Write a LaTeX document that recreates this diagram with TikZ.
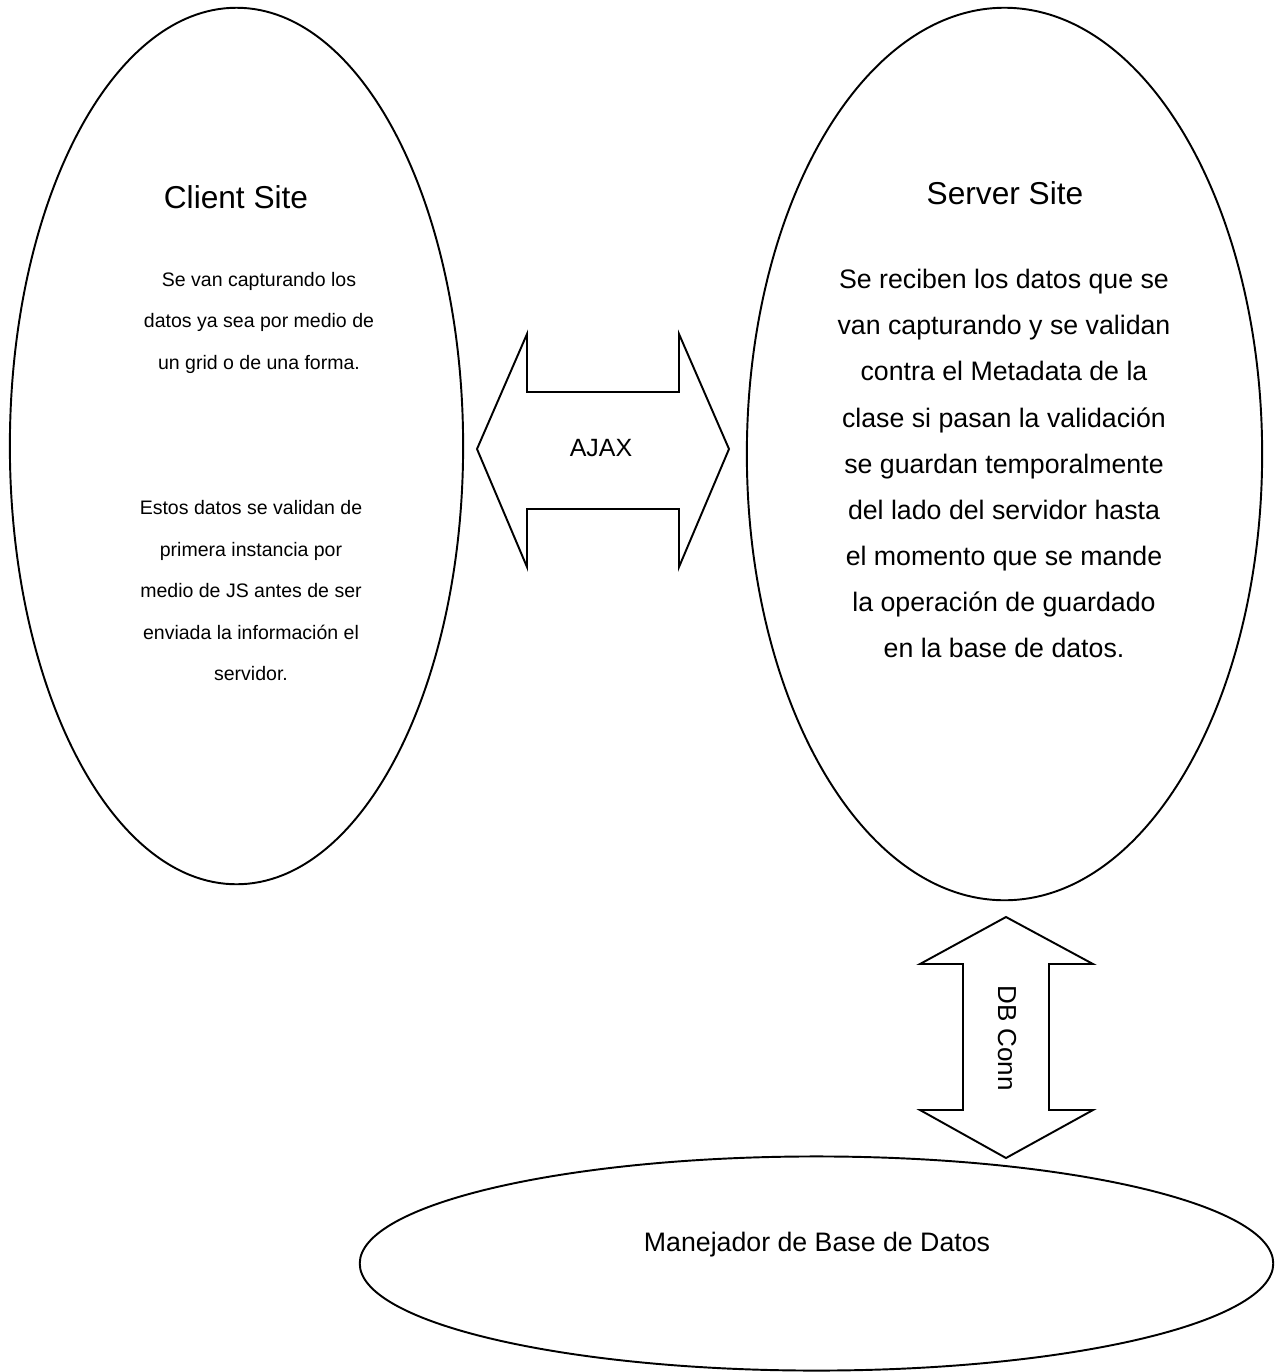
\documentclass[tikz,border=0pt]{standalone}
\usepackage{fontspec}
\setmainfont{Liberation Sans}
\usetikzlibrary{shapes.geometric}
\begin{document}
\begin{tikzpicture}[x=0.01cm,y=-0.01cm,
  outline/.style={draw=black,line width=0.55pt},
  site/.style={outline,ellipse,inner sep=0pt},
  title/.style={font=\fontsize{9}{11}\selectfont},
  smalltext/.style={align=center,font=\fontsize{5.55}{11.8}\selectfont},
  bodytext/.style={align=center,font=\fontsize{7.6}{13.1}\selectfont},
  label/.style={font=\fontsize{7.4}{9}\selectfont}]
\useasboundingbox (0,0) rectangle (1277,1372);

% the three ellipses
\node[site,minimum width=4.53cm,minimum height=8.76cm] (client) at (236.5,446) {};
\node[site,minimum width=5.15cm,minimum height=8.92cm] (server) at (1004.5,454) {};
\node[site,minimum width=9.13cm,minimum height=2.14cm] (dbms) at (816.5,1263.5) {};

% client side texts
\node[title] (clienttitle) at (236,197) {Client Site};
\node[smalltext] (clientcap) at (259,322.5) {Se van capturando los\\datos ya sea por medio de\\un grid o de una forma.};
\node[smalltext] (clientval) at (251,591) {Estos datos se validan de\\primera instancia por\\medio de JS antes de ser\\enviada la información el\\servidor.};

% server side texts
\node[title] (servertitle) at (1005,193) {Server Site};
\node[bodytext] (serverbody) at (1004,463.5) {Se reciben los datos que se\\van capturando y se validan\\contra el Metadata de la\\clase si pasan la validación\\se guardan temporalmente\\del lado del servidor hasta\\el momento que se mande\\la operación de guardado\\en la base de datos.};

% database text
\node[bodytext] (dbmstext) at (817,1245) {Manejador de Base de Datos};

% AJAX double arrow
\draw[outline] (477,449) -- (527,334) -- (527,392) -- (679,392) -- (679,334)
  -- (729,449) -- (679,567) -- (679,509) -- (527,509) -- (527,567) -- cycle;
\node[label,font=\fontsize{7.1}{9}\selectfont] (ajax) at (601,448) {AJAX};

% DB connection double arrow
\draw[outline] (1006,917) -- (1093,964) -- (1049,964) -- (1049,1110) -- (1093,1110)
  -- (1006,1158) -- (920,1110) -- (963,1110) -- (963,964) -- (920,964) -- cycle;
\node[label,rotate=-90] (dbconn) at (1007,1038) {DB Conn};
\end{tikzpicture}
\end{document}
